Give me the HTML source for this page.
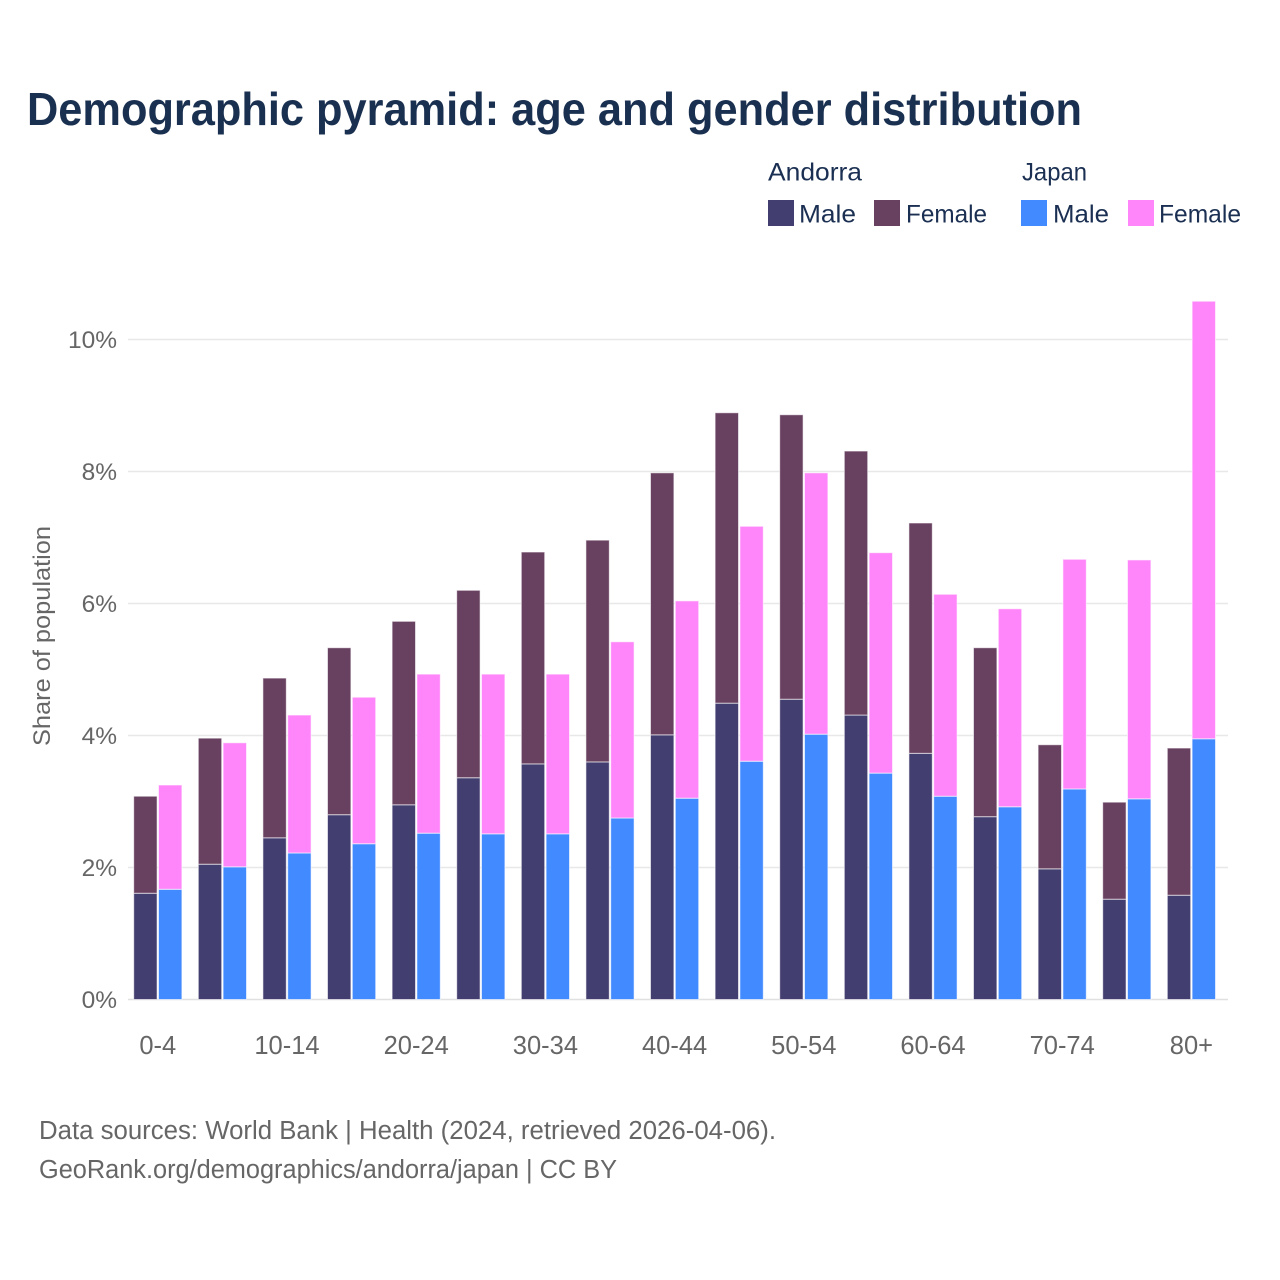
<!DOCTYPE html>
<html lang="en">
<head>
<meta charset="utf-8">
<title>Demographic pyramid: age and gender distribution</title>
<style>
html,body{margin:0;padding:0;background:#fff;}
svg{display:block;font-family:"Liberation Sans",Arimo,sans-serif;}
.leg{font-size:25px;fill:#1a2f52;}
.tick{font-size:24.5px;fill:#666;}
.xtick{font-size:25.5px;fill:#666;}
.note{font-size:25.5px;fill:#666;}
</style>
</head>
<body>
<svg id="chart" width="1280" height="1280" viewBox="0 0 1280 1280" xmlns="http://www.w3.org/2000/svg">
  <rect x="0" y="0" width="1280" height="1280" fill="#fff"/>
  <text x="27" y="125" font-size="46" font-weight="700" fill="#1a3050" textLength="1055" lengthAdjust="spacingAndGlyphs">Demographic pyramid: age and gender distribution</text>

  <g>
    <text class="leg" x="768" y="180.5" textLength="94" lengthAdjust="spacingAndGlyphs">Andorra</text>
    <text class="leg" x="1022" y="180.5" textLength="65" lengthAdjust="spacingAndGlyphs">Japan</text>
    <rect x="768" y="200" width="26" height="26" fill="#433e70"/>
    <text class="leg" x="799" y="222.5" textLength="57" lengthAdjust="spacingAndGlyphs">Male</text>
    <rect x="874" y="200" width="26" height="26" fill="#684060"/>
    <text class="leg" x="906" y="222.5" textLength="81" lengthAdjust="spacingAndGlyphs">Female</text>
    <rect x="1021" y="200" width="26" height="26" fill="#418aff"/>
    <text class="leg" x="1053" y="222.5" textLength="56" lengthAdjust="spacingAndGlyphs">Male</text>
    <rect x="1128" y="200" width="26" height="26" fill="#ff86fa"/>
    <text class="leg" x="1159" y="222.5" textLength="82" lengthAdjust="spacingAndGlyphs">Female</text>
  </g>

  <g id="grid"></g>
  <g id="yticks"></g>
  <g id="bars"></g>
  <g id="xticks"></g>

  <text class="tick" transform="translate(50,636) rotate(-90)" text-anchor="middle" textLength="220" lengthAdjust="spacingAndGlyphs">Share of population</text>

  <text class="note" x="39" y="1139" textLength="737" lengthAdjust="spacingAndGlyphs">Data sources: World Bank | Health (2024, retrieved 2026-04-06).</text>
  <text class="note" x="39" y="1178" textLength="578" lengthAdjust="spacingAndGlyphs">GeoRank.org/demographics/andorra/japan | CC BY</text>
</svg>
<script>
const categories = ["0-4","5-9","10-14","15-19","20-24","25-29","30-34","35-39","40-44","45-49","50-54","55-59","60-64","65-69","70-74","75-79","80+"];
const andorraMale = [1.61,2.05,2.45,2.80,2.95,3.36,3.57,3.60,4.01,4.49,4.55,4.31,3.73,2.77,1.98,1.52,1.58];
const andorraFemale = [1.47,1.91,2.42,2.53,2.78,2.84,3.21,3.36,3.97,4.40,4.31,4.00,3.49,2.56,1.88,1.47,2.23];
const japanMale = [1.67,2.01,2.22,2.36,2.52,2.51,2.51,2.75,3.05,3.61,4.02,3.43,3.08,2.92,3.19,3.04,3.95];
const japanFemale = [1.58,1.88,2.09,2.22,2.41,2.42,2.42,2.67,2.99,3.56,3.96,3.34,3.06,3.00,3.48,3.62,6.63];
const yTickValues = [0,2,4,6,8,10];

const NS = "http://www.w3.org/2000/svg";
function yScale(v){ return 999.5 - v * 66; }
function xScale(i){ return 157.8 + i * 64.6; }
const BAR_W = 23.4;
const BAR_OFF = 24.8;

function mk(tag, parent, attrs){
  const el = document.createElementNS(NS, tag);
  for (const k in attrs) el.setAttribute(k, attrs[k]);
  parent.appendChild(el);
  return el;
}

const grid = document.getElementById("grid");
const yticks = document.getElementById("yticks");
yTickValues.forEach(function(v){
  const line = mk("line", grid, {x1:128, x2:1228, y1:yScale(v), y2:yScale(v), stroke:v===0?"#e0e0e0":"#e8e8e8", "stroke-width":1.5});
  
  
  const t = mk("text", yticks, {x:117, y:yScale(v)+8.5, "text-anchor":"end", "class":"tick"});
  
  
  t.textContent = v + "%";
});

const bars = document.getElementById("bars");
function seg(x, v0, v1, fill){
  const r = mk("rect", bars, {x:x, y:yScale(v1), width:BAR_W, height:yScale(v0)-yScale(v1), fill:fill, stroke:"#fff", "stroke-opacity":0.6, "stroke-width":1});
  
  
}
categories.forEach(function(c, i){
  const xA = xScale(i) - BAR_OFF/2 - BAR_W/2;
  const xJ = xScale(i) + BAR_OFF/2 - BAR_W/2;
  seg(xA, 0, andorraMale[i], "#433e70");
  seg(xA, andorraMale[i], andorraMale[i] + andorraFemale[i], "#684060");
  seg(xJ, 0, japanMale[i], "#418aff");
  seg(xJ, japanMale[i], japanMale[i] + japanFemale[i], "#ff86fa");
});

const xticks = document.getElementById("xticks");
categories.forEach(function(c, i){
  if (i % 2 !== 0) return;
  const t = mk("text", xticks, {x:xScale(i), y:1054, "text-anchor":"middle", "class":"xtick"});
  
  
  t.textContent = c;
});
</script>
</body>
</html>
